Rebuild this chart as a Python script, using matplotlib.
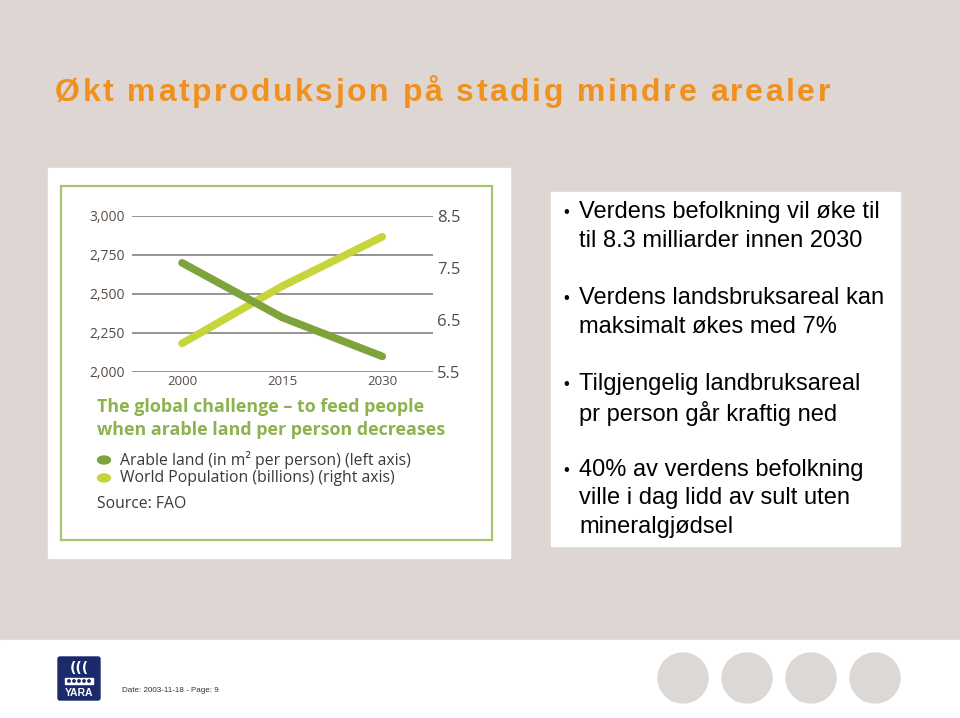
import matplotlib.pyplot as plt
from matplotlib.patches import Rectangle, Circle, FancyBboxPatch, Ellipse
from matplotlib.font_manager import FontProperties, findfont, get_font

# data
years = [2000, 2015, 2030]
arable_land = [2700, 2350, 2100]      # m2 per person, left axis
population = [6.05, 7.15, 8.1]        # billions, right axis

left_ticks = [2000, 2250, 2500, 2750, 3000]
left_labels = ['2,000', '2,250', '2,500', '2,750', '3,000']
right_ticks = [5.5, 6.5, 7.5, 8.5]
right_labels = ['5.5', '6.5', '7.5', '8.5']

title = 'Økt matproduksjon på stadig mindre arealer'
bullets = [
    ['Verdens befolkning vil øke til', 'til 8.3 milliarder innen 2030'],
    ['Verdens landsbruksareal kan', 'maksimalt økes med 7%'],
    ['Tilgjengelig landbruksareal', 'pr person går kraftig ned'],
    ['40% av verdens befolkning', 'ville i dag lidd av sult uten', 'mineralgjødsel'],
]

W, H = 960, 718
dark_green = '#7ea33c'
light_green = '#c6d53c'
axis_text = '#574b45'

fig = plt.figure(figsize=(W / 100, H / 100), dpi=100)
bg = fig.add_axes([0, 0, 1, 1], zorder=0)
bg.set_xlim(0, W)
bg.set_ylim(H, 0)
bg.axis('off')

# slide background and footer
bg.add_patch(Rectangle((0, 0), W, 640, color='#ddd6d2'))
bg.add_patch(Rectangle((0, 640), W, 78, color='white'))

# title with letter spacing
def spaced_text(ax, x0, y, text, size, width, color):
    prop = FontProperties(family='Liberation Sans', weight='bold', size=size)
    font = get_font(findfont(prop))
    font.set_size(size, 100)
    advances = []
    for ch in text:
        g = font.load_char(ord(ch))
        advances.append(g.linearHoriAdvance / 65536)
    extra = (width - sum(advances)) / (len(text) - 1)
    x = x0
    for ch, adv in zip(text, advances):
        ax.text(x, y, ch, fontproperties=prop, color=color, ha='left', va='baseline')
        x += adv + extra

spaced_text(bg, 55, 101, title, 23, 775, '#f0901f')

# chart panel
bg.add_patch(Rectangle((48, 168), 462, 390, color='white'))
bg.add_patch(Rectangle((61, 186), 431, 354, fill=False, edgecolor='#a9c46f', lw=1.6))

bg.text(97, 407, 'The global challenge – to feed people', family='Open Sans',
        weight='bold', fontsize=12.9, color='#8db24e', va='center')
bg.text(97, 430, 'when arable land per person decreases', family='Open Sans',
        weight='bold', fontsize=12.9, color='#8db24e', va='center')

bg.add_patch(Ellipse((104, 460), 13, 8, color=dark_green))
bg.add_patch(Ellipse((104, 478), 13, 8, color=light_green))
bg.text(120, 460, 'Arable land (in m² per person) (left axis)', family='Open Sans',
        fontsize=11.3, color='#3f3836', va='center')
bg.text(120, 478, 'World Population (billions) (right axis)', family='Open Sans',
        fontsize=11.3, color='#3f3836', va='center')
bg.text(97, 504, 'Source: FAO', family='Open Sans', fontsize=11.3, color='#3f3836', va='center')

# bullet box
bg.add_patch(Rectangle((551, 192), 349, 354, color='white'))
line_y = [[212, 241], [298, 327], [384, 413], [470, 498, 527]]
for lines, ys in zip(bullets, line_y):
    bg.text(566, ys[0], '•', family='Liberation Sans', fontsize=12, va='center', ha='center')
    for line, y in zip(lines, ys):
        bg.text(579, y, line, family='Liberation Sans', fontsize=17, va='center', color='black')

# footer
bg.add_patch(FancyBboxPatch((58, 657), 42, 43, boxstyle='round,pad=0,rounding_size=2',
                            color='#1b2a6b'))
bg.text(79, 668, '(((', family='DejaVu Sans', weight='bold', fontsize=10, color='white',
        ha='center', va='center')
bg.add_patch(Rectangle((65, 678), 28, 6, color='white'))
for cx in [69, 74, 79, 84, 89]:
    bg.add_patch(Circle((cx, 681), 1.2, color='#1b2a6b'))
bg.text(79, 693, 'YARA', family='Liberation Sans', weight='bold', fontsize=7.5, color='white',
        ha='center', va='center')
bg.text(122, 690, 'Date: 2003-11-18 - Page: 9', family='Liberation Sans', fontsize=5.8,
        color='#333333', va='center')
for cx in [683, 747, 811, 875]:
    bg.add_patch(Circle((cx, 678), 25, color='#dcd8d5'))

# the chart itself
ax = fig.add_axes([132 / W, 1 - 372 / H, 301 / W, 156 / H], zorder=2)
ax.patch.set_alpha(0)
ax.set_xlim(1992.5, 2037.6)
ax.set_ylim(2000, 3000)
ax.set_yticks(left_ticks)
ax.set_yticklabels(left_labels)
ax.set_xticks(years)
ax.set_xticklabels([str(y) for y in years])
ax.grid(axis='y', color='#8c8c8c', lw=1.3)
ax.set_axisbelow(True)
for s in ax.spines.values():
    s.set_visible(False)
ax.tick_params(length=0)
ax.tick_params(axis='y', pad=5, labelsize=10, labelcolor=axis_text)
ax.tick_params(axis='x', pad=2, labelsize=9.5, labelcolor=axis_text)
for lab in ax.get_xticklabels() + ax.get_yticklabels():
    lab.set_family('Open Sans')

ax2 = ax.twinx()
ax2.set_ylim(5.5, 8.5)
ax2.set_yticks(right_ticks)
ax2.set_yticklabels(right_labels)
for s in ax2.spines.values():
    s.set_visible(False)
ax2.tick_params(length=0, pad=3, labelsize=12, labelcolor=axis_text)
for lab in ax2.get_yticklabels():
    lab.set_family('Open Sans')

ax2.plot(years, population, color=light_green, lw=5.5, solid_capstyle='round',
         solid_joinstyle='round', zorder=2)
ax3 = ax.twinx()
ax3.set_ylim(2000, 3000)
ax3.axis('off')
ax3.plot(years, arable_land, color=dark_green, lw=5.5, solid_capstyle='round',
         solid_joinstyle='round', zorder=3)

fig.savefig('out.png', dpi=100)
